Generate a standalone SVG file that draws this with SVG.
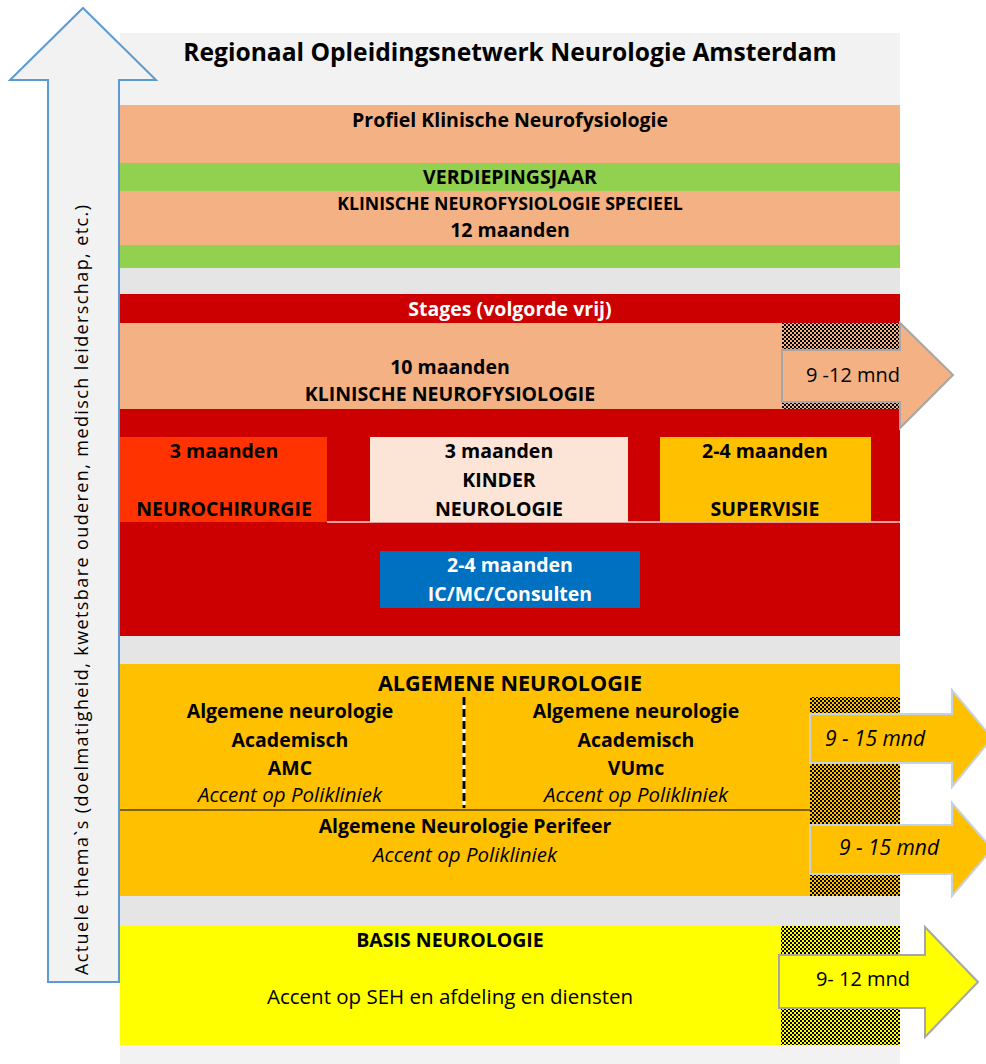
<svg xmlns="http://www.w3.org/2000/svg" width="986" height="1064" viewBox="0 0 986 1064">
<defs>
<pattern id="chk" width="4" height="4" patternUnits="userSpaceOnUse">
<rect x="0" y="0" width="2" height="2" fill="#000"/>
<rect x="2" y="2" width="2" height="2" fill="#000"/>
</pattern>
<style>
text{font-family:"Open Sans","Noto Sans","Liberation Sans",sans-serif;font-size:19.5px;fill:#000;text-anchor:middle}
.b{font-weight:bold}
.i{font-style:italic;font-size:20.5px}
.n{font-size:20.5px}
.w{fill:#fff}
.arrowG{stroke:#A6A6A6;stroke-width:2}
.arrowB{stroke:#C5D3E0;stroke-width:2}
</style>
</defs>
<rect width="986" height="1064" fill="#fff"/>
<g id="panel">
<rect x="120" y="33" width="780" height="1031" fill="#F2F2F2"/>
<text x="510" y="61" class="b" style="font-size:24.6px">Regionaal Opleidingsnetwerk Neurologie Amsterdam</text>
</g>
<g id="left-arrow">
<polygon points="83,8 156,80 119,80 119,982 48,982 48,80 10,80" fill="#F2F2F2" stroke="#5B9BD5" stroke-width="2"/>
<text transform="translate(88,590) rotate(-90)" textLength="770" lengthAdjust="spacing" style="font-size:18px">Actuele thema`s  (doelmatigheid,  kwetsbare ouderen, medisch leiderschap, etc.)</text>
</g>
<g id="profiel">
<rect x="120" y="105" width="780" height="58" fill="#F4B183"/>
<text x="510" y="127" class="b">Profiel Klinische Neurofysiologie</text>
<rect x="120" y="163" width="780" height="28" fill="#92D050"/>
<text x="510" y="184" class="b">VERDIEPINGSJAAR</text>
<rect x="120" y="191" width="780" height="54" fill="#F4B183"/>
<text x="510" y="210" class="b" style="font-size:17.7px">KLINISCHE NEUROFYSIOLOGIE SPECIEEL</text>
<text x="510" y="237" class="b">12 maanden</text>
<rect x="120" y="245" width="780" height="23" fill="#92D050"/>
<rect x="120" y="268" width="780" height="26" fill="#E5E5E5"/>
</g>
<g id="stages">
<rect x="120" y="294" width="780" height="342" fill="#CC0000"/>
<text x="510" y="316" class="b w">Stages (volgorde vrij)</text>
<rect x="120" y="323" width="780" height="86" fill="#F4B183"/>
<rect x="782" y="323" width="118" height="86" fill="url(#chk)"/>
<text x="450" y="374" class="b">10 maanden</text>
<text x="450" y="401" class="b">KLINISCHE NEUROFYSIOLOGIE</text>
<line x1="327" y1="522" x2="900" y2="522" stroke="#F4D0D0" stroke-width="1.5"/>
</g>
<g id="neurochirurgie">
<rect x="120" y="437" width="207" height="85" fill="#FF3300"/>
<text x="224" y="458" class="b">3 maanden</text>
<text x="224" y="516" class="b">NEUROCHIRURGIE</text>
</g>
<g id="kinderneurologie">
<rect x="370" y="437" width="258" height="85" fill="#FCE4D6"/>
<text x="499" y="458" class="b">3 maanden</text>
<text x="499" y="487" class="b">KINDER</text>
<text x="499" y="516" class="b">NEUROLOGIE</text>
</g>
<g id="supervisie">
<rect x="660" y="437" width="211" height="85" fill="#FFC000"/>
<text x="765" y="458" class="b">2-4 maanden</text>
<text x="765" y="516" class="b">SUPERVISIE</text>
</g>
<g id="ic">
<rect x="380" y="551" width="260" height="57" fill="#0070C0"/>
<text x="510" y="572" class="b w">2-4 maanden</text>
<text x="510" y="601" class="b w">IC/MC/Consulten</text>
</g>
<rect x="120" y="636" width="780" height="28" fill="#E5E5E5"/>
<g id="algemene">
<rect x="120" y="664" width="780" height="232" fill="#FFC000"/>
<rect x="810" y="697" width="90" height="199" fill="url(#chk)"/>
<text x="510" y="691" class="b" style="font-size:21.6px">ALGEMENE NEUROLOGIE</text>
<line x1="464" y1="697" x2="464" y2="808" stroke="#fff" stroke-width="3"/>
<line x1="464" y1="697" x2="464" y2="808" stroke="#000" stroke-width="3" stroke-dasharray="8,4"/>
<line x1="120" y1="810" x2="810" y2="810" stroke="#000" stroke-width="1.2"/>
</g>
<g id="amc">
<text x="290" y="718" class="b">Algemene neurologie</text>
<text x="290" y="747" class="b">Academisch</text>
<text x="290" y="775" class="b">AMC</text>
<text x="290" y="802" class="i">Accent op Polikliniek</text>
</g>
<g id="vumc">
<text x="636" y="718" class="b">Algemene neurologie</text>
<text x="636" y="747" class="b">Academisch</text>
<text x="636" y="775" class="b">VUmc</text>
<text x="636" y="802" class="i">Accent op Polikliniek</text>
</g>
<g id="perifeer">
<text x="465" y="833" class="b">Algemene Neurologie Perifeer</text>
<text x="465" y="862" class="i">Accent op Polikliniek</text>
</g>
<rect x="120" y="896" width="780" height="30" fill="#E5E5E5"/>
<g id="basis">
<rect x="120" y="926" width="780" height="119" fill="#FFFF00"/>
<rect x="781" y="926" width="119" height="119" fill="url(#chk)"/>
<text x="450" y="947" class="b">BASIS NEUROLOGIE</text>
<text x="450" y="1004" class="n">Accent op SEH en afdeling en diensten</text>
</g>
<g id="connectors">
<g id="arrow-knf">
<polygon points="782,350 900,350 900,323 953,375 900,428 900,402 782,402" fill="#F4B183" class="arrowG"/>
<text x="853" y="382" style="font-size:20px">9 -12 mnd</text>
</g>
<g id="arrow-alg1">
<polygon points="810,714 952,714 952,690 992,738 952,787 952,763 810,763" fill="#FFC000" class="arrowB"/>
<text x="875" y="746" class="i" style="font-size:21px">9 - 15 mnd</text>
</g>
<g id="arrow-alg2">
<polygon points="810,825 952,825 952,803 992,849 952,896 952,874 810,874" fill="#FFC000" class="arrowB"/>
<text x="889" y="855" class="i" style="font-size:21px">9 - 15 mnd</text>
</g>
<g id="arrow-basis">
<polygon points="779,955 925,955 925,927 978,982 925,1037 925,1008 779,1008" fill="#FFFF00" class="arrowG"/>
<text x="863" y="986" style="font-size:20px">9- 12 mnd</text>
</g>
</g>
</svg>
